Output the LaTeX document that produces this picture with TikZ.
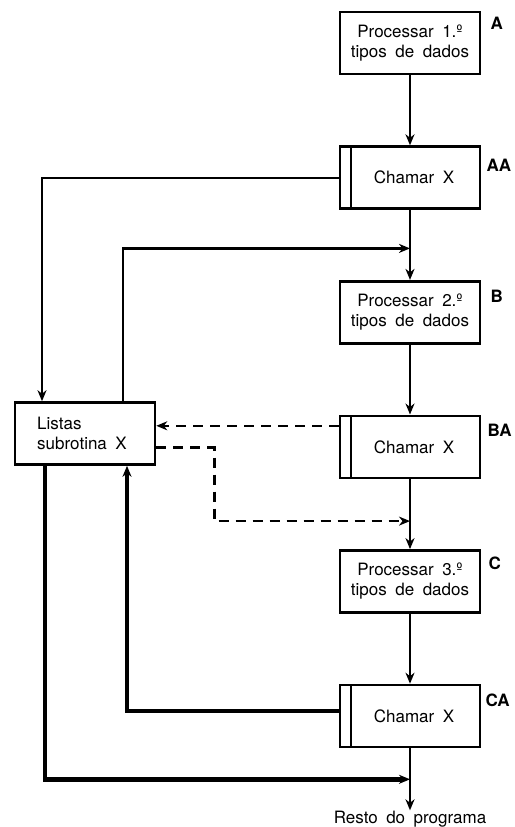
\documentclass[tikz,border=0pt]{standalone}
\usepackage{fontspec}
\setmainfont{TeX Gyre Heros}
\usetikzlibrary{arrows.meta,positioning,calc}
\newcommand\boxfont{\fontsize{17}{20}\selectfont\spaceskip=0.5em plus 0.1em\relax}

\begin{document}
\begin{tikzpicture}[
        x=1pt, y=1pt,
        node distance=70pt,
        procbox/.style={rectangle, draw=black, line width=2.6pt, minimum height=62pt,
            minimum width=140pt, align=center, font=\boxfont},
        callbox/.style={procbox, path picture={
            \draw[line width=2.8pt] ([xshift=11pt]path picture bounding box.north west)
                -- ([xshift=11pt]path picture bounding box.south west);}},
        tag/.style={anchor=north west, inner sep=0pt, font=\fontsize{17}{20}\selectfont\bfseries},
        flow/.style={-{Stealth[length=11pt,width=9pt,inset=3.5pt]}, line width=2.2pt},
        dflow/.style={flow, line width=2.6pt, dash pattern=on 10pt off 7pt},
        bflow/.style={flow, line width=4.5pt}
    ]
    \useasboundingbox (0,0) rectangle (514,-827);

    % Main column
    \node[procbox] (A) at (410,-43) {Processar 1.º\\tipos de dados};
    \node[callbox, below=of A] (AA) {\hspace*{8pt}Chamar X};
    \node[procbox, below=of AA] (B) {Processar 2.º\\tipos de dados};
    \node[callbox, below=of B] (BA) {\hspace*{8pt}Chamar X};
    \node[procbox, below=of BA] (C) {Processar 3.º\\tipos de dados};
    \node[callbox, below=of C] (CA) {\hspace*{8pt}Chamar X};
    \node[below=62pt of CA, inner sep=1pt, font=\boxfont] (resto) {Resto do programa};

    % Subroutine
    \node[procbox, align=left] (listas) at (85,-433.5) {Listas\\subrotina X\hspace*{6pt}};

    % Tags
    \node[tag] (tA) at ([xshift=9pt,yshift=-6pt]A.north east) {A};
    \node[tag] (tAA) at ([xshift=5pt,yshift=-14pt]AA.north east) {AA};
    \node[tag] (tB) at ([xshift=9pt,yshift=-10pt]B.north east) {B};
    \node[tag] (tBA) at ([xshift=6pt,yshift=-9pt]BA.north east) {BA};
    \node[tag] (tC) at ([xshift=7pt,yshift=-8pt]C.north east) {C};
    \node[tag] (tCA) at ([xshift=4pt,yshift=-10pt]CA.north east) {CA};

    % Junctions on the main line
    \coordinate (j1) at ($(AA.south)!.55!(B.north)$);
    \coordinate (j2) at ($(BA.south)!.6!(C.north)$);
    \coordinate (j3) at ($(CA.south)!.5!(resto.north)$);

    % Main flow
    \draw[flow] (A) -- (AA);
    \draw[flow] (AA) -- (B);
    \draw[flow] (B) -- (BA);
    \draw[flow] (BA) -- (C);
    \draw[flow] (C) -- (CA);
    \draw[flow] (CA) -- (resto);

    % Calls and returns
    \draw[flow] (AA.west) -| ([xshift=-43pt]listas.north);
    \draw[flow] ([xshift=38pt]listas.north) |- (j1);
    \draw[dflow] ([yshift=21pt]BA.west) -- ([yshift=21pt]BA.west -| listas.east);
    \draw[dflow] ([yshift=-14pt]listas.east) -- ++(58,0) |- (j2);
    \draw[bflow] ([yshift=5pt]CA.west) -| ([xshift=42pt]listas.south);
    \draw[bflow] ([xshift=-40pt]listas.south) |- (j3);
\end{tikzpicture}
\end{document}
